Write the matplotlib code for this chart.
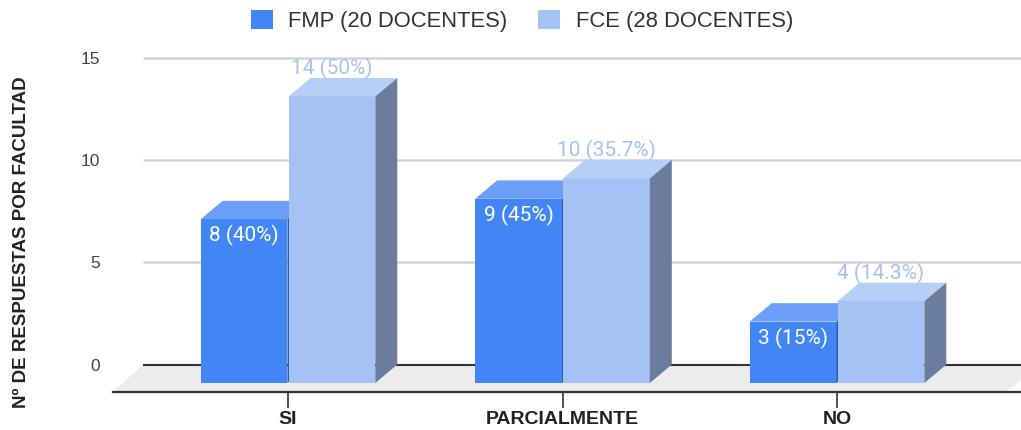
import matplotlib
matplotlib.use("Agg")
import matplotlib.pyplot as plt
from matplotlib.patches import Polygon, Patch

plt.rcParams['font.family'] = ['Liberation Sans', 'DejaVu Sans']

categories = ["SI", "PARCIALMENTE", "NO"]
fmp = [8, 9, 3]
fce = [14, 10, 4]
fmp_labels = ["8 (40%)", "9 (45%)", "3 (15%)"]
fce_labels = ["14 (50%)", "10 (35.7%)", "4 (14.3%)"]
series_names = ["FMP (20 DOCENTES)", "FCE (28 DOCENTES)"]
yticks = [0, 5, 10, 15]

# colours: front, top, side
fmp_cols = ("#4285f4", "#6b9ef6", "#2c5cb0")
fce_cols = ("#a4c2f4", "#b6cff7", "#6b7d9e")

# depth of the fake 3d (data units)
dx, dy = 0.08, 0.9
w = 0.316

fig = plt.figure(figsize=(10.21, 4.30), dpi=100)
ax = fig.add_axes([113 / 1021, 38 / 430, 908 / 1021, 342 / 430])
ax.set_xlim(-0.6375, 2.670)
ax.set_ylim(-0.44, 16.27)

# floor
floor = Polygon([(-0.6375, -0.44), (-0.528, dy), (2.75, dy), (2.612, -0.44)],
                 closed=True, facecolor="#ececec", edgecolor="none", zorder=0.5)
ax.add_patch(floor)

# back wall grid lines
for v in yticks:
    if v == 0:
        ax.hlines(v + dy, -0.528, 2.7, color="#333333", lw=1.5, zorder=1)
    else:
        ax.hlines(v + dy, -0.528, 2.7, color="#d4d4d4", lw=1.8, zorder=1)


def bar3d(x0, h, cols, z):
    x1 = x0 + w
    ax.bar(x0, h, width=w, align="edge", color=cols[0], zorder=z)
    top = Polygon([(x0, h), (x1, h), (x1 + dx, h + dy), (x0 + dx, h + dy)],
                  closed=True, facecolor=cols[1], edgecolor="none", zorder=z)
    side = Polygon([(x1, 0), (x1 + dx, dy), (x1 + dx, h + dy), (x1, h)],
                   closed=True, facecolor=cols[2], edgecolor="none", zorder=z)
    ax.add_patch(top)
    ax.add_patch(side)


for i in range(len(categories)):
    bar3d(i - w - 0.002, fmp[i], fmp_cols, 3)
    bar3d(i + 0.002, fce[i], fce_cols, 4)
    ax.text(i - w / 2 - 0.002, fmp[i] - 0.8, fmp_labels[i], ha="center", va="center",
            color="white", fontsize=15, family="Roboto", zorder=6)
    ax.text(i + w / 2 + 0.002, fce[i] + 1.37, fce_labels[i], ha="center", va="center",
            color="#a4c2f4", fontsize=15, family="Roboto", zorder=6)

for s in ["top", "right", "left"]:
    ax.spines[s].set_visible(False)
ax.spines["bottom"].set_color("#333333")
ax.spines["bottom"].set_linewidth(1.6)

ax.set_xticks(range(len(categories)))
ax.set_xticklabels(categories, fontweight="bold", fontsize=14, color="#222222")
ax.tick_params(axis="x", length=11.5, width=1.2, color="#333333", pad=2)
ax.set_yticks([v + dy for v in yticks])
ax.set_yticklabels([str(v) for v in yticks], fontsize=12.5, color="#444444")
ax.tick_params(axis="y", length=0, pad=9.4)

fig.text(22 / 1021, 1 - 242 / 430, "Nº DE RESPUESTAS POR FACULTAD", rotation=90,
         ha="center", va="center", fontsize=13.5, fontweight="bold", color="#222222")

handles = [Patch(facecolor=fmp_cols[0]), Patch(facecolor=fce_cols[0])]
fig.legend(handles, series_names, loc="center", bbox_to_anchor=(522 / 1021, 1 - 21 / 430),
           ncol=2, frameon=False, fontsize=15.8, handlelength=1.0, handleheight=1.0,
           handletextpad=0.7, columnspacing=1.4, labelcolor="#333333")

fig.savefig("out.png", dpi=100)
